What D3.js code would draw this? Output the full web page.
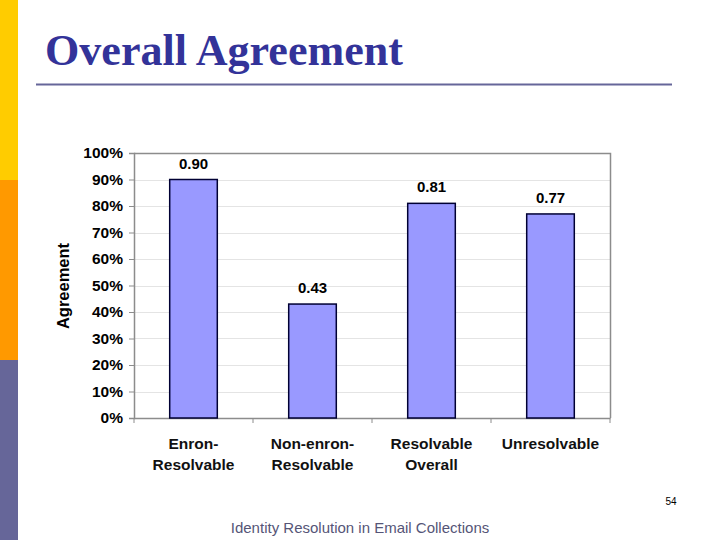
<!DOCTYPE html>
<html><head><meta charset="utf-8">
<script src="https://cdn.jsdelivr.net/npm/d3@7"></script>
<style>body{margin:0;background:#fff;}svg{display:block;}</style>
</head><body>
<script>
const categories = [["Enron-","Resolvable"],["Non-enron-","Resolvable"],["Resolvable","Overall"],["Unresolvable"]];
const values = [0.90, 0.43, 0.81, 0.77];
const valueLabels = ["0.90","0.43","0.81","0.77"];
const yTicks = [0,0.1,0.2,0.3,0.4,0.5,0.6,0.7,0.8,0.9,1.0];

const W=720,H=540;
const svg=d3.select("body").append("svg").attr("width",W).attr("height",H);
svg.append("rect").attr("width",W).attr("height",H).attr("fill","#fff");
// sidebar
svg.append("rect").attr("x",0).attr("y",0).attr("width",18).attr("height",180).attr("fill","#FFCC00");
svg.append("rect").attr("x",0).attr("y",180).attr("width",18).attr("height",180).attr("fill","#FF9900");
svg.append("rect").attr("x",0).attr("y",360).attr("width",18).attr("height",180).attr("fill","#666699");
// title
svg.append("text").attr("x",45).attr("y",65).text("Overall Agreement")
  .attr("font-family","Liberation Serif, Times New Roman, serif").attr("font-weight","bold")
  .attr("font-size",44).attr("fill","#333399").attr("textLength",358).attr("lengthAdjust","spacingAndGlyphs");
svg.append("line").attr("x1",36).attr("x2",672).attr("y1",84.5).attr("y2",84.5).attr("stroke","#666699").attr("stroke-width",2);

const L=134,R=610,T=153,B=418;
const x=d3.scaleBand().domain(d3.range(categories.length)).range([L,R]).paddingInner(0.6).paddingOuter(0.3);
const xb=d3.scaleBand().domain(d3.range(categories.length)).range([L,R]);
const y=d3.scaleLinear().domain([0,1]).range([B,T]);

// gridlines
svg.append("g").selectAll("line").data(yTicks.slice(1,-1)).join("line")
  .attr("x1",L).attr("x2",R).attr("y1",d=>Math.round(y(d))+0.5).attr("y2",d=>Math.round(y(d))+0.5)
  .attr("stroke","#e4e4e4").attr("stroke-width",1);
// border top/right
svg.append("path").attr("d",`M${L},${T+0.5}H${R+0.5}V${B}`).attr("fill","none").attr("stroke","#8c8c8c").attr("stroke-width",1.5);

// y axis
const ya=svg.append("g").attr("transform",`translate(${L},0)`)
  .call(d3.axisLeft(y).tickValues(yTicks).tickFormat(d3.format(".0%")).tickSize(5).tickPadding(6));
ya.select(".domain").attr("stroke","#8c8c8c").attr("stroke-width",1.5);
ya.selectAll(".tick line").attr("stroke","#8c8c8c");
ya.selectAll("text").attr("font-family","Liberation Sans, Arial, sans-serif").attr("font-weight","bold").attr("font-size",15.5).attr("fill","#000");

// x axis
const xa=svg.append("g").attr("transform",`translate(0,${B})`)
  .call(d3.axisBottom(xb).tickValues([]).tickSizeOuter(0));
xa.select(".domain").attr("stroke","#8c8c8c").attr("stroke-width",1.5);
svg.append("g").selectAll("line").data(d3.range(categories.length+1)).join("line")
  .attr("x1",d=>L+d*xb.step()).attr("x2",d=>L+d*xb.step()).attr("y1",B).attr("y2",B+5)
  .attr("stroke","#8c8c8c");

// bars
svg.append("g").selectAll("rect").data(values).join("rect")
  .attr("x",(d,i)=>x(i)).attr("width",x.bandwidth())
  .attr("y",d=>y(d)).attr("height",d=>B-y(d))
  .attr("fill","#9999FF").attr("stroke","#000033").attr("stroke-width",1.5);

// value labels
svg.append("g").selectAll("text").data(values).join("text")
  .attr("x",(d,i)=>x(i)+x.bandwidth()/2).attr("y",d=>y(d)-11)
  .attr("text-anchor","middle").text((d,i)=>valueLabels[i])
  .attr("font-family","Liberation Sans, Arial, sans-serif").attr("font-weight","bold").attr("font-size",15);

// category labels
const cg=svg.append("g").selectAll("text").data(categories).join("text")
  .attr("x",(d,i)=>xb(i)+xb.bandwidth()/2).attr("y",449)
  .attr("text-anchor","middle").attr("font-family","Liberation Sans, Arial, sans-serif")
  .attr("font-weight","bold").attr("font-size",15.5).attr("fill","#111");
cg.each(function(d,i){
  const t=d3.select(this);
  d.forEach((s,j)=>t.append("tspan").attr("x",xb(i)+xb.bandwidth()/2).attr("dy",j===0?0:21).text(s));
});

// y title
svg.append("text").attr("transform","translate(69,286) rotate(-90)").attr("text-anchor","middle")
  .text("Agreement").attr("font-family","Liberation Sans, Arial, sans-serif").attr("font-weight","bold").attr("font-size",16.5);

// footer
svg.append("text").attr("x",360).attr("y",533).attr("text-anchor","middle").text("Identity Resolution in Email Collections")
  .attr("font-family","Liberation Sans, Arial, sans-serif").attr("font-size",15).attr("fill","#555577");
svg.append("text").attr("x",671).attr("y",505).attr("text-anchor","middle").text("54")
  .attr("font-family","Liberation Sans, Arial, sans-serif").attr("font-size",10).attr("fill","#000");
</script>
</body></html>
